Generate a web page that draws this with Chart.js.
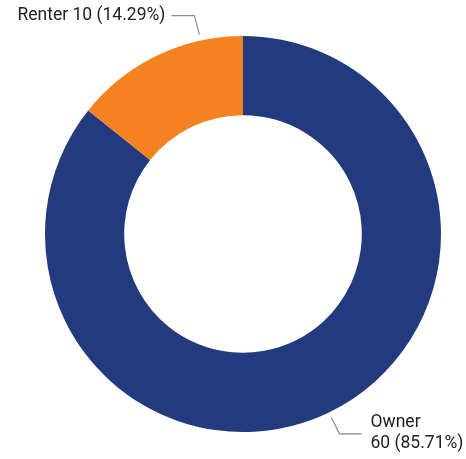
<!DOCTYPE html>
<html>
<head>
<meta charset="utf-8">
<script src="https://cdn.jsdelivr.net/npm/chart.js@4"></script>
<style>
  html, body { margin: 0; padding: 0; background: #fff; }
  #wrap { width: 466px; height: 459px; }
</style>
</head>
<body>
<div id="wrap"><canvas id="c"></canvas></div>
<script>
// 数据
const categories = ['Owner', 'Renter'];
const counts = [60, 10];
const sliceColors = ['#243a7e', '#f58220'];

const total = counts.reduce((a, b) => a + b, 0);

// 引线标签插件
const leaderLabels = {
  id: 'leaderLabels',
  afterDraw(chart, args, opts) {
    const ctx = chart.ctx;
    const meta = chart.getDatasetMeta(0);
    ctx.save();
    ctx.strokeStyle = '#8a8a8a';
    ctx.lineWidth = 1.2;
    ctx.fillStyle = '#222';
    ctx.font = opts.font;
    ctx.textBaseline = 'middle';
    meta.data.forEach((arc, i) => {
      const p = arc.getProps(['x', 'y', 'startAngle', 'endAngle', 'outerRadius'], true);
      const f = opts.anchor[i];
      const a = p.startAngle + (p.endAngle - p.startAngle) * f;
      const r1 = p.outerRadius + 6;
      const x1 = p.x + Math.cos(a) * r1;
      const y1 = p.y + Math.sin(a) * r1;
      const right = Math.cos(a) >= 0;
      const down = Math.sin(a) >= 0;
      const x2 = x1 + (right ? 8 : -5);
      const y2 = y1 + (down ? 16 : -19);
      const x3 = x2 + (right ? 22 : -23);
      ctx.beginPath();
      ctx.moveTo(x1, y1);
      ctx.lineTo(x2, y2);
      ctx.lineTo(x3, y2);
      ctx.stroke();
      const pct = (counts[i] / total * 100).toFixed(2) + '%';
      if (right) {
        ctx.textAlign = 'left';
        ctx.fillText(categories[i], x3 + 9, y2 - 11);
        ctx.fillText(counts[i] + ' (' + pct + ')', x3 + 9, y2 + 10);
      } else {
        ctx.textAlign = 'right';
        ctx.fillText(categories[i] + ' ' + counts[i] + ' (' + pct + ')', x3 - 6, y2);
      }
    });
    ctx.restore();
  }
};

new Chart(document.getElementById('c'), {
  type: 'doughnut',
  data: {
    labels: categories,
    datasets: [{
      data: counts,
      backgroundColor: sliceColors,
      borderWidth: 0,
      hoverOffset: 0
    }]
  },
  options: {
    responsive: true,
    maintainAspectRatio: false,
    animation: false,
    cutout: '60%',
    layout: { padding: { top: 36, bottom: 27, left: 45, right: 25 } },
    plugins: {
      legend: { display: false },
      tooltip: { enabled: false },
      leaderLabels: {
        font: '17.5px Roboto',
        anchor: [0.5, 0.76]
      }
    }
  },
  plugins: [leaderLabels]
});
</script>
</body>
</html>
